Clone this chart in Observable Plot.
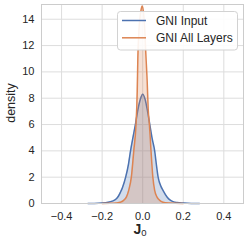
<!DOCTYPE html>
<html>
<head>
<meta charset="utf-8">
<script src="https://cdn.jsdelivr.net/npm/d3@7"></script>
<script src="https://cdn.jsdelivr.net/npm/@observablehq/plot@0.6"></script>
<style>
  html, body { margin: 0; padding: 0; background: #fff; }
  #chart { width: 249px; height: 243px; }
  svg { font-family: "Liberation Sans", Arial, sans-serif; }
</style>
</head>
<body>
<div id="chart"></div>
<script>
// Series names and colors
const seriesNames = ["GNI Input", "GNI All Layers"];
const seriesColors = ["#4C72B0", "#DD8452"];

// GNI Input density
const xInput = [-0.27, -0.24, -0.20, -0.17, -0.15, -0.134, -0.12, -0.11, -0.10, -0.084, -0.07, -0.06, -0.047, -0.036, -0.024, -0.012, 0.0, 0.012, 0.024, 0.035, 0.047, 0.059, 0.067, 0.076, 0.09, 0.10, 0.12, 0.136, 0.15, 0.17, 0.20, 0.24, 0.28];
const dInput = [0.0, 0.005, 0.03, 0.09, 0.18, 0.3, 0.55, 0.85, 1.2, 2.0, 3.0, 4.0, 5.1, 6.0, 7.1, 7.9, 8.3, 7.9, 7.0, 6.0, 4.9, 4.0, 3.0, 2.0, 1.3, 1.0, 0.5, 0.25, 0.14, 0.07, 0.03, 0.005, 0.0];

// GNI All Layers density
const xAll = [-0.20, -0.16, -0.13, -0.11, -0.097, -0.08, -0.069, -0.056, -0.044, -0.033, -0.027, -0.024, -0.018, -0.010, -0.003, 0.004, 0.010, 0.015, 0.022, 0.027, 0.033, 0.041, 0.050, 0.059, 0.07, 0.087, 0.10, 0.13, 0.16, 0.20];
const dAll = [0.0, 0.01, 0.04, 0.1, 0.2, 0.5, 1.0, 2.0, 4.0, 6.0, 8.5, 11.0, 13.3, 14.5, 15.0, 14.5, 13.3, 11.5, 9.3, 7.2, 6.0, 4.0, 2.0, 1.0, 0.5, 0.2, 0.1, 0.03, 0.01, 0.0];

// Axis ticks
const xTicks = [-0.4, -0.2, 0.0, 0.2, 0.4];
const yTicks = [0, 2, 4, 6, 8, 10, 12, 14];

const inputData = xInput.map((x, i) => ({x, d: dInput[i]}));
const allData = xAll.map((x, i) => ({x, d: dAll[i]}));

const fmt = d3.format(".1f");
const curve = "monotone-x";

const plot = Plot.plot({
  width: 249,
  height: 243,
  marginLeft: 41,
  marginRight: 6,
  marginTop: 4,
  marginBottom: 40,
  style: {fontFamily: "'Liberation Sans', Arial, sans-serif", background: "#fff"},
  x: {domain: [-0.499, 0.497]},
  y: {domain: [0, 15.12]},
  marks: [
    Plot.gridX(xTicks, {stroke: "#dddddd", strokeOpacity: 1, strokeWidth: 1}),
    Plot.gridY(yTicks, {stroke: "#dddddd", strokeOpacity: 1, strokeWidth: 1}),
    Plot.areaY(inputData, {x: "x", y: "d", fill: seriesColors[0], fillOpacity: 0.25, curve}),
    Plot.lineY(inputData, {x: "x", y: "d", stroke: seriesColors[0], strokeWidth: 1.5, curve}),
    Plot.areaY(allData, {x: "x", y: "d", fill: seriesColors[1], fillOpacity: 0.25, curve}),
    Plot.lineY(allData, {x: "x", y: "d", stroke: seriesColors[1], strokeWidth: 1.5, curve}),
    Plot.frame({stroke: "#cccccc", strokeWidth: 1}),
    Plot.axisX(xTicks, {tickSize: 0, tickPadding: 9, fontSize: 11, tickFormat: fmt, label: null, fill: "#262626"}),
    Plot.axisY(yTicks, {tickSize: 0, tickPadding: 7, fontSize: 11, tickFormat: d => String(d), label: null, fill: "#262626"})
  ]
});

document.getElementById("chart").appendChild(plot);

const NS = "http://www.w3.org/2000/svg";
const ff = "'Liberation Sans', Arial, sans-serif";
function el(parent, tag, attrs, text) {
  const e = document.createElementNS(NS, tag);
  for (const k in attrs) e.setAttribute(k, attrs[k]);
  if (text != null) e.textContent = text;
  parent.appendChild(e);
  return e;
}

// y label
el(plot, "text", {transform: "translate(15,103) rotate(-90)", "text-anchor": "middle",
  "font-family": ff, "font-size": 12.5, fill: "#262626"}, "density");

// x label: bold J with subscript 0
const xl = el(plot, "text", {x: 140, y: 234, "text-anchor": "middle", "font-family": ff, fill: "#262626"});
el(xl, "tspan", {"font-weight": "bold", "font-size": 14}, "J");
el(xl, "tspan", {"font-size": 9.5, dy: 2}, "0");

// legend inside plot (upper right)
const lg = el(plot, "g", {"text-anchor": "start"});
el(lg, "rect", {x: 117.5, y: 11.5, width: 120, height: 38.5, rx: 3,
  fill: "#ffffff", "fill-opacity": 0.9, stroke: "#d2d2d2", "stroke-width": 1});
seriesNames.forEach((name, i) => {
  const yy = 20.5 + i * 17.3;
  el(lg, "line", {x1: 122, x2: 146, y1: yy, y2: yy, stroke: seriesColors[i], "stroke-width": 1.5});
  el(lg, "text", {x: 156, y: yy + 4.3, "text-anchor": "start", "font-family": ff,
    "font-size": 12, fill: "#262626"}, name);
});
</script>
</body>
</html>
